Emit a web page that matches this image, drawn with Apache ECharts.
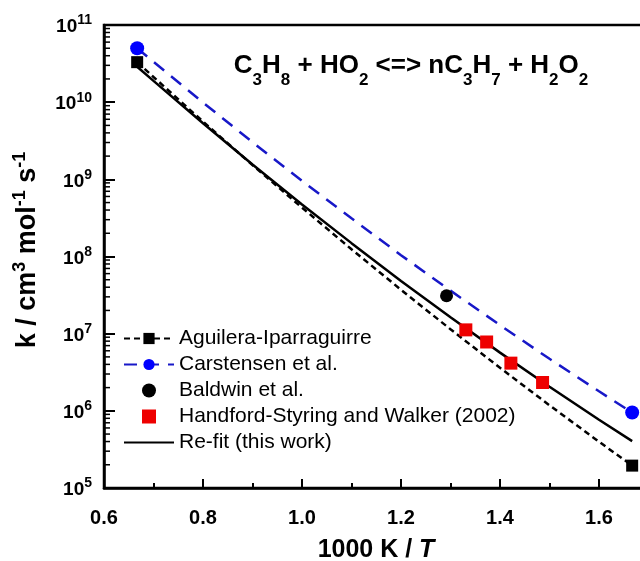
<!DOCTYPE html>
<html><head><meta charset="utf-8">
<script src="https://cdn.jsdelivr.net/npm/echarts@6/dist/echarts.min.js"></script>
<style>html,body{margin:0;padding:0;background:#fff}#c{width:640px;height:561px}</style>
</head><body><div id="c"></div>
<script>
// ---- data ----
const invT = [0.667, 0.7, 0.8, 0.9, 1.0, 1.1, 1.2, 1.3, 1.4, 1.5, 1.6, 1.667];
const refitK = [2.88e10, 1.89e10, 5.33e9, 1.56e9, 4.73e8, 1.49e8, 4.83e7, 1.63e7, 5.68e6, 2.05e6, 7.67e5, 4.05e5];
const aguileraK = [3.3e10, 2.12e10, 5.61e9, 1.53e9, 4.30e8, 1.24e8, 3.71e7, 1.14e7, 3.61e6, 1.18e6, 3.98e5, 1.95e5];
const carstensenK = [5.0e10, 3.33e10, 9.9e9, 3.03e9, 9.57e8, 3.12e8, 1.04e8, 3.61e7, 1.29e7, 4.72e6, 1.79e6, 9.5e5];
const baldwinX = [1.292];
const baldwinK = [3.1e7];
const handfordX = [1.331, 1.373, 1.422, 1.486];
const handfordK = [1.12e7, 7.8e6, 4.15e6, 2.33e6];
const seriesNames = ['Aguilera-Iparraguirre', 'Carstensen et al.', 'Baldwin et al.', 'Handford-Styring and Walker (2002)', 'Re-fit (this work)'];
const xTickMin = 0.6, xTickMax = 1.8, xTickStep = 0.2;
const yMin = 1e5, yMax = 1e11;
const minorMult = [2, 3, 4, 5, 6, 7, 8, 9];
const minorDecades = [5, 6, 7, 8, 9, 10];

const FONT = '"Liberation Sans", Arial, Helvetica, sans-serif';
const minorK = [];
minorDecades.forEach(d => minorMult.forEach(m => minorK.push(m * Math.pow(10, d))));

function lineWithEndMarkers(xs, ys) {
  return xs.map((x, i) => (i === 0 || i === xs.length - 1) ? { value: [x, ys[i]] } : { value: [x, ys[i]], symbol: 'none' });
}
const SQUARE = 'path://M0,0H10V10H0Z';

const chart = echarts.init(document.getElementById('c'), null, { renderer: 'canvas' });
chart.setOption({
  animation: false,
  backgroundColor: '#fff',
  grid: { left: 104, top: 25, width: 594, height: 463, show: true, borderColor: '#000', borderWidth: 2.5, outerBoundsMode: 'none', containLabel: false },
  xAxis: {
    type: 'value', min: xTickMin, max: xTickMax, interval: xTickStep,
    axisLine: { show: true, lineStyle: { color: '#000', width: 2.5 } },
    axisTick: { show: true, inside: true, length: 9, lineStyle: { color: '#000', width: 2 } },
    minorTick: { show: true, splitNumber: 2, length: 5, lineStyle: { color: '#000', width: 2 } },
    splitLine: { show: false }, minorSplitLine: { show: false },
    axisLabel: { margin: 20, color: '#000', fontFamily: FONT, fontSize: 20, fontWeight: 'bold', showMaxLabel: false,
      formatter: v => v.toFixed(1) }
  },
  yAxis: {
    type: 'log', logBase: 10, min: yMin, max: yMax, splitNumber: 6,
    axisLine: { show: true, lineStyle: { color: '#000', width: 2.5 } },
    axisTick: { show: true, inside: true, length: 11, lineStyle: { color: '#000', width: 2 } },
    splitLine: { show: false },
    axisLabel: {
      margin: 12, color: '#000',
      formatter: v => '{b|10}{s|' + Math.round(Math.log10(v)) + '}',
      rich: {
        b: { fontFamily: FONT, fontSize: 19, fontWeight: 'bold', color: '#000', lineHeight: 23, verticalAlign: 'bottom' },
        s: { fontFamily: FONT, fontSize: 14, fontWeight: 'bold', color: '#000', lineHeight: 14, verticalAlign: 'top' }
      }
    }
  },
  legend: {
    orient: 'vertical', left: 118, top: 323, itemWidth: 50, itemHeight: 14, itemGap: 5,
    selectedMode: false,
    textStyle: { fontFamily: FONT, fontSize: 21, color: '#000', lineHeight: 21 },
    data: [
      { name: seriesNames[0] },
      { name: seriesNames[1] },
      { name: seriesNames[2] },
      { name: seriesNames[3], icon: SQUARE },
      { name: seriesNames[4], itemStyle: { color: 'rgba(0,0,0,0)', borderWidth: 0 } }
    ]
  },
  graphic: [
    {
      type: 'text', x: 411, y: 53, z: 100,
      style: {
        text: '{n|C}{s|3}{n|H}{s|8}{n| + HO}{s|2}{n| <=> nC}{s|3}{n|H}{s|7}{n| + H}{s|2}{n|O}{s|2}',
        align: 'center', verticalAlign: 'top',
        rich: {
          n: { fontFamily: FONT, fontSize: 26, fontWeight: 'bold', fill: '#000', color: '#000', lineHeight: 28, verticalAlign: 'top' },
          s: { fontFamily: FONT, fontSize: 17, fontWeight: 'bold', fill: '#000', color: '#000', lineHeight: 17, verticalAlign: 'top', padding: [19, 0, 0, 0] }
        }
      }
    },
    {
      type: 'text', x: 26, y: 250, rotation: Math.PI / 2, z: 100,
      style: {
        text: '{n|k / cm}{p|3}{n| mol}{p|-1}{n| s}{p|-1}',
        align: 'center', verticalAlign: 'middle',
        rich: {
          n: { fontFamily: FONT, fontSize: 27, fontWeight: 'bold', fill: '#000', color: '#000', lineHeight: 30, verticalAlign: 'bottom' },
          p: { fontFamily: FONT, fontSize: 18, fontWeight: 'bold', fill: '#000', color: '#000', lineHeight: 18, verticalAlign: 'top' }
        }
      }
    },
    {
      type: 'text', x: 376, y: 550, z: 100,
      style: {
        text: '{n|1000 K / }{i|T}',
        align: 'center', verticalAlign: 'middle',
        rich: {
          n: { fontFamily: FONT, fontSize: 25, fontWeight: 'bold', fill: '#000', color: '#000' },
          i: { fontFamily: FONT, fontSize: 25, fontWeight: 'bold', fontStyle: 'italic', fill: '#000', color: '#000' }
        }
      }
    }
  ],
  series: [
    {
      name: seriesNames[4], type: 'line', symbol: 'none', z: 2,
      data: invT.map((x, i) => [x, refitK[i]]),
      lineStyle: { color: '#000', width: 2.5 }, itemStyle: { color: '#000' }
    },
    {
      name: seriesNames[0], type: 'line', symbol: 'rect', symbolSize: 12, z: 3,
      data: lineWithEndMarkers(invT, aguileraK),
      lineStyle: { color: '#000', width: 2.5, type: [6, 4] }, itemStyle: { color: '#000', opacity: 1 }
    },
    {
      name: seriesNames[1], type: 'line', symbol: 'circle', symbolSize: 14, z: 4,
      data: lineWithEndMarkers(invT, carstensenK),
      lineStyle: { color: '#1818c8', width: 2.5, type: [13, 9] }, itemStyle: { color: '#0000ff', opacity: 1 }
    },
    {
      name: seriesNames[2], type: 'scatter', symbol: 'circle', symbolSize: 13, z: 5,
      data: baldwinX.map((x, i) => [x, baldwinK[i]]),
      itemStyle: { color: '#000', opacity: 1 }
    },
    {
      name: seriesNames[3], type: 'scatter', symbol: 'rect', symbolSize: 13, z: 5,
      data: handfordX.map((x, i) => [x, handfordK[i]]),
      itemStyle: { color: '#ee0000', opacity: 1 }
    },
    {
      name: 'minorTicks', type: 'custom', silent: true, clip: false, z: 6,
      data: minorK.map(v => [xTickMin, v]),
      renderItem: (params, api) => {
        const p = api.coord([api.value(0), api.value(1)]);
        return { type: 'line', shape: { x1: p[0], y1: p[1], x2: p[0] + 6, y2: p[1] }, style: { stroke: '#000', lineWidth: 1.5 } };
      }
    }
  ]
});
</script></body></html>
